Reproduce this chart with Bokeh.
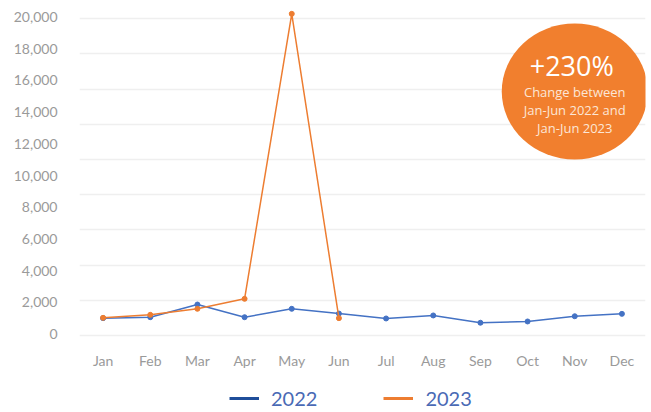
import numpy as np
from bokeh.plotting import figure
from bokeh.layouts import column
from bokeh.models import ColumnDataSource, FactorRange, Range1d, FixedTicker, Legend, LegendItem, NumeralTickFormatter
from bokeh.core.properties import value
from bokeh.embed import file_html
from bokeh.resources import INLINE

months = ["Jan", "Feb", "Mar", "Apr", "May", "Jun", "Jul", "Aug", "Sep", "Oct", "Nov", "Dec"]
values_2022 = [1000, 1060, 1860, 1060, 1590, 1290, 980, 1170, 710, 790, 1120, 1270]
months_2023 = ["Jan", "Feb", "Mar", "Apr", "May", "Jun"]
values_2023 = [1020, 1210, 1590, 2220, 20200, 1000]
y_ticks = [0, 2000, 4000, 6000, 8000, 10000, 12000, 14000, 16000, 18000, 20000]
series_names = ["2022", "2023"]
callout_big = "+230%"
callout_lines = ["Change between", "Jan-Jun 2022 and", "Jan-Jun 2023"]

BLUE = "#4472C4"
ORANGE = "#ED7D31"
NAVY = "#1F4E9A"
FONT = "Lato"

p = figure(width=651, height=372, x_range=FactorRange(*months, range_padding=0),
           y_range=Range1d(-410, 20789), output_backend="svg", toolbar_location=None,
           min_border_left=79, min_border_right=6, min_border_top=4, min_border_bottom=32)
p.outline_line_color = None
p.background_fill_color = "white"
p.border_fill_color = "white"

s22 = ColumnDataSource(dict(x=months, y=values_2022))
s23 = ColumnDataSource(dict(x=months_2023, y=values_2023))
p.line("x", "y", source=s22, color=BLUE, line_width=1.5)
p.scatter("x", "y", source=s22, color=BLUE, size=5)
p.line("x", "y", source=s23, color=ORANGE, line_width=1.5)
p.scatter("x", "y", source=s23, color=ORANGE, size=5)

# axes
p.yaxis.ticker = FixedTicker(ticks=y_ticks)
p.yaxis.formatter = NumeralTickFormatter(format="0,0")
for ax in (p.xaxis[0], p.yaxis[0]):
    ax.axis_line_color = None
    ax.major_tick_line_color = None
    ax.minor_tick_line_color = None
    ax.major_tick_out = 0
    ax.major_tick_in = 0
    ax.major_label_text_font = FONT
    ax.major_label_text_font_size = "14px"
    ax.major_label_text_color = "#9a9a9a"
p.yaxis.major_label_standoff = 22
p.xaxis.major_label_standoff = 11
p.xgrid.grid_line_color = None
p.ygrid.ticker = FixedTicker(ticks=[float(t) for t in np.linspace(-100, 19900, 10)])
p.ygrid.grid_line_color = "#efefef"
p.ygrid.grid_line_width = 1.5

# callout bubble
cx, cy = 10.5, 15300
p.ellipse(x=[cx], y=[cy], width=146, height=136, width_units="screen", height_units="screen",
          fill_color="#F17F2E", line_color=None)
p.text(x=[cx], y=[cy], text=[callout_big], x_offset=-3, y_offset=-26, text_align="center", text_baseline="middle",
       text_color="white", text_font=value("Open Sans"), text_font_size="27px")
p.text(x=[cx] * 3, y=[cy] * 3, text=callout_lines, y_offset=[1, 19, 37], text_align="center",
       text_baseline="middle", text_color="#FCE6D6", text_font=value("Open Sans"), text_font_size="13px")

# legend strip below the chart (helper renderers lie outside the visible range)
p2 = figure(width=651, height=40, x_range=Range1d(0, 1), y_range=Range1d(0, 1),
            x_axis_type=None, y_axis_type=None, output_backend="svg", toolbar_location=None,
            min_border=0)
p2.outline_line_color = None
p2.xgrid.grid_line_color = None
p2.ygrid.grid_line_color = None
r1 = p2.line([5, 6], [5, 6], color=NAVY, line_width=3)
r2 = p2.line([5, 6], [5, 6], color=ORANGE, line_width=3)
legend = Legend(items=[LegendItem(label=series_names[0], renderers=[r1]),
                       LegendItem(label=series_names[1], renderers=[r2])],
                orientation="horizontal", location=(150, 2),
                label_text_font=FONT, label_text_font_size="20px", label_text_color="#4A6AB5",
                glyph_width=30, glyph_height=20, label_standoff=12, spacing=66,
                padding=0, margin=0, border_line_color=None, background_fill_alpha=0)
p2.add_layout(legend, "center")

open("out.html", "w").write(file_html(column(p, p2, spacing=0), INLINE))
